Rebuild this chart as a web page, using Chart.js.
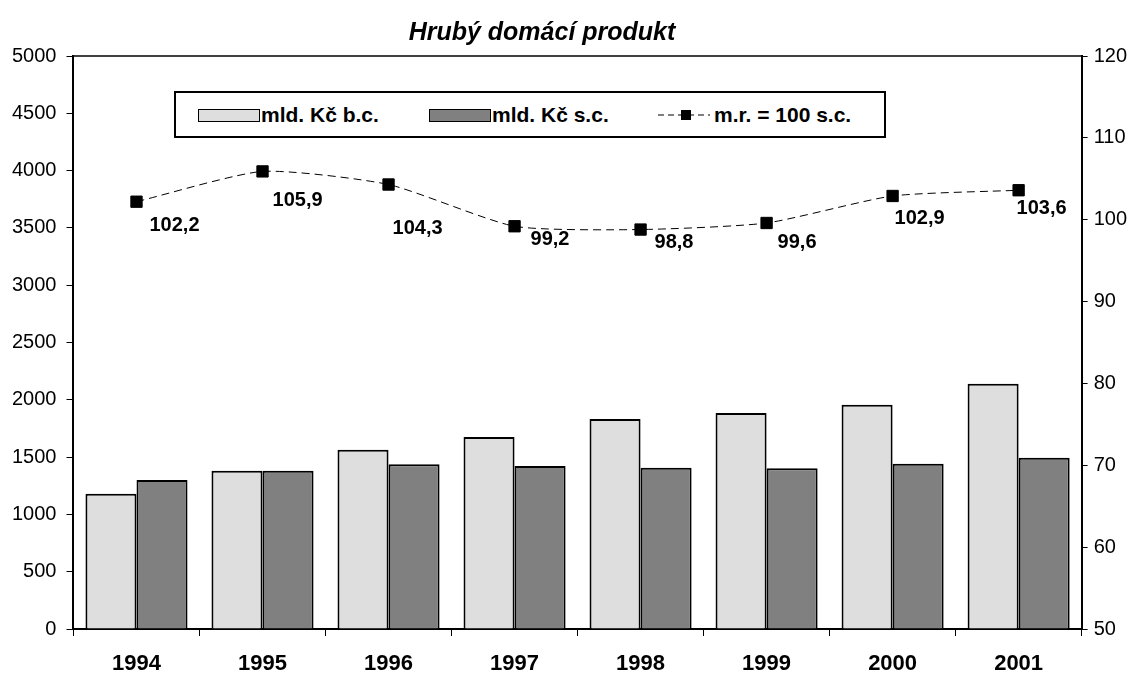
<!DOCTYPE html>
<html>
<head>
<meta charset="utf-8">
<script src="https://cdn.jsdelivr.net/npm/chart.js@4/dist/chart.umd.min.js"></script>
<style>
    html, body { margin: 0; padding: 0; background: #fff; }
    #wrap { position: relative; width: 1135px; height: 674px; font-family: "Liberation Sans", Arial, sans-serif; }
    #title { position: absolute; left: 0; top: 17px; width: 1084px; line-height: 28px; text-align: center; font-weight: bold; font-style: italic; font-size: 25px; }
    #legend { position: absolute; left: 174px; top: 91px; width: 708px; height: 43px; border: 2px solid #000; background: #fff; font-weight: bold; font-size: 21px; }
    .item { position: absolute; top: 10px; display: flex; align-items: center; height: 24px; }
    .sw { width: 60px; height: 11px; border: 1.5px solid #000; margin-right: 1px; }
</style>
</head>
<body>
<div id="wrap">
    <canvas id="gdp" width="1135" height="674"></canvas>
    <div id="title">Hrubý domácí produkt</div>
    <div id="legend">
        <div class="item" style="left:22px"><span class="sw" style="background:#dedede"></span>mld. Kč b.c.</div>
        <div class="item" style="left:253px"><span class="sw" style="background:#808080"></span>mld. Kč s.c.</div>
        <div class="item" style="left:482px"><canvas id="lineSample" width="52" height="20" style="margin-right:4px"></canvas>m.r. = 100 s.c.</div>
    </div>
</div>
<script>
    "use strict";

    // Data
    var years = ["1994", "1995", "1996", "1997", "1998", "1999", "2000", "2001"];
    var nominal = [1180, 1380, 1565, 1675, 1832, 1885, 1957, 2140];   // mld. Kč b.c.
    var real = [1300, 1380, 1438, 1422, 1408, 1403, 1442, 1495];      // mld. Kč s.c.
    var growth = [102.2, 105.9, 104.3, 99.2, 98.8, 99.6, 102.9, 103.6]; // m.r. = 100 s.c.
    var leftTicks = [0, 500, 1000, 1500, 2000, 2500, 3000, 3500, 4000, 4500, 5000];
    var rightTicks = [50, 60, 70, 80, 90, 100, 110, 120];

    Chart.defaults.font.family = '"Liberation Sans", Arial, sans-serif';
    Chart.defaults.color = "#000";

    // legend line sample
    var lc = document.getElementById("lineSample").getContext("2d");
    lc.strokeStyle = "#000";
    lc.lineWidth = 1;
    lc.setLineDash([6, 4]);
    lc.beginPath();
    lc.moveTo(0, 10);
    lc.lineTo(52, 10);
    lc.stroke();
    lc.fillRect(23, 5, 10, 10);

    // Top border of plot area
    var frame = {
        id: "frame",
        afterDraw: function (chart) {
            var a = chart.chartArea, c = chart.ctx;
            c.save();
            c.strokeStyle = "#000";
            c.lineWidth = 1.5;
            c.beginPath();
            c.moveTo(a.left, a.top);
            c.lineTo(a.right, a.top);
            c.stroke();
            c.restore();
        }
    };

    // Value labels for the line (label placement nudged like in the original)
    var labelShift = [[13, 24], [10, 29], [4, 44], [16, 13], [14, 13], [11, 19], [2, 23], [-2, 18]];
    var pointLabels = {
        id: "pointLabels",
        afterDatasetsDraw: function (chart) {
            var meta = chart.getDatasetMeta(2), c = chart.ctx;
            c.save();
            c.font = "bold 20px 'Liberation Sans', Arial, sans-serif";
            c.fillStyle = "#000";
            c.textBaseline = "middle";
            meta.data.forEach(function (pt, i) {
                var s = labelShift[i];
                c.fillText(growth[i].toFixed(1).replace(".", ","), pt.x + s[0], pt.y + s[1]);
            });
            c.restore();
        }
    };

    var ctx = document.getElementById("gdp").getContext("2d");
    var chart = new Chart(ctx, {
        type: "bar",
        data: {
            labels: years,
            datasets: [{
                    label: "mld. Kč b.c.",
                    data: nominal,
                    backgroundColor: "#dedede",
                    borderColor: "#000",
                    borderWidth: 2,
                    yAxisID: "y",
                    order: 2
                },
                {
                    label: "mld. Kč s.c.",
                    data: real,
                    backgroundColor: "#808080",
                    borderColor: "#000",
                    borderWidth: 2,
                    yAxisID: "y",
                    order: 2
                },
                {
                    type: "line",
                    label: "m.r. = 100 s.c.",
                    data: growth,
                    yAxisID: "y2",
                    borderColor: "#000",
                    borderWidth: 1,
                    borderDash: [8, 5],
                    tension: 0.2,
                    pointStyle: "rect",
                    pointRadius: 8,
                    pointBackgroundColor: "#000",
                    pointBorderColor: "#000",
                    fill: false,
                    order: 1
                }
            ]
        },
        options: {
            responsive: false,
            animation: false,
            layout: { padding: { top: 56, left: 2, right: 2, bottom: -18 } },
            datasets: { bar: { categoryPercentage: 0.81, barPercentage: 1 } },
            plugins: {
                legend: { display: false },
                title: { display: false },
                tooltip: { enabled: false }
            },
            scales: {
                x: {
                    grid: { offset: true, drawOnChartArea: false, tickLength: 7, color: "#000", lineWidth: 1 },
                    border: { color: "#000", width: 2 },
                    ticks: { font: { size: 22, weight: "bold", lineHeight: 1 }, padding: 17 }
                },
                y: {
                    position: "left",
                    min: 0,
                    max: 5000,
                    afterBuildTicks: function (axis) {
                        axis.ticks = leftTicks.map(function (v) { return { value: v }; });
                    },
                    grid: { drawOnChartArea: false, tickLength: 7, color: "#000" },
                    border: { color: "#000", width: 2 },
                    ticks: { font: { size: 20 }, padding: 10, callback: function (v) { return String(v); } }
                },
                y2: {
                    position: "right",
                    min: 50,
                    max: 120,
                    afterBuildTicks: function (axis) {
                        axis.ticks = rightTicks.map(function (v) { return { value: v }; });
                    },
                    grid: { drawOnChartArea: false, tickLength: 6, color: "#000" },
                    border: { color: "#000", width: 2 },
                    ticks: { font: { size: 20 }, padding: 6, callback: function (v) { return String(v); } }
                }
            }
        },
        plugins: [frame, pointLabels]
    });
</script>
</body>
</html>
